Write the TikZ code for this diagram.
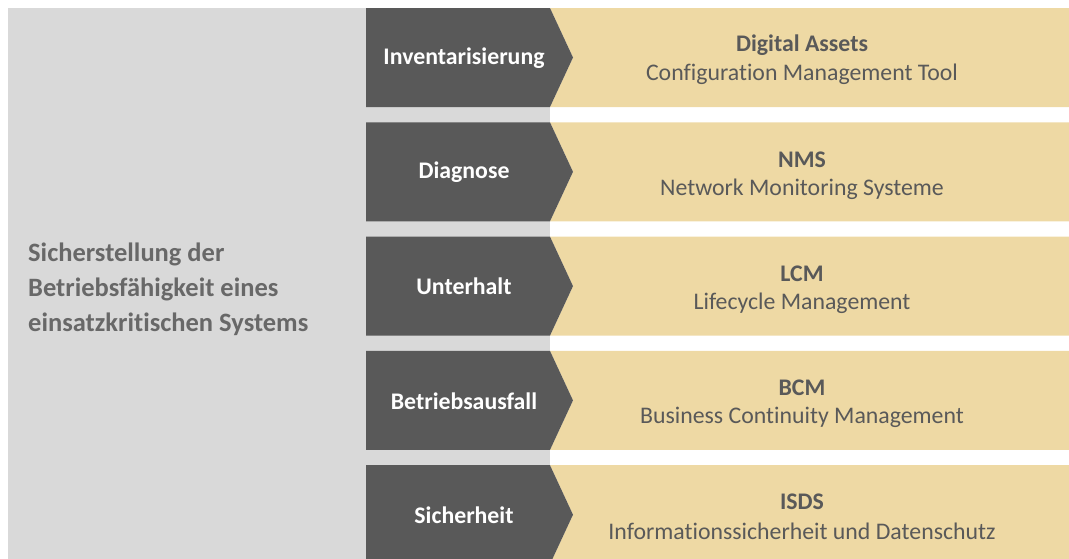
\documentclass[tikz,border=0pt]{standalone}
\usepackage{fontspec}
\setmainfont[Ligatures=NoCommon]{Carlito}
\definecolor{panelgray}{HTML}{D9D9D9}
\definecolor{darkgray}{HTML}{595959}
\definecolor{beige}{HTML}{EED9A4}
\definecolor{leadgray}{HTML}{686868}
\begin{document}
\begin{tikzpicture}[x=1pt,y=-1pt,
  stagetext/.style={font=\bfseries\fontsize{23.8}{28}\selectfont,text=white,anchor=center},
  titletext/.style={font=\bfseries\fontsize{23.8}{28}\selectfont,text=darkgray,anchor=center},
  subtext/.style={font=\fontsize{23.8}{28}\selectfont,text=darkgray,anchor=center},
  leadtext/.style={font=\bfseries\fontsize{26.5}{35}\selectfont,text=leadgray,align=left,anchor=west}]
\useasboundingbox (0,0) rectangle (1069,558);
\clip (0,0) rectangle (1069,558);
% left panel
\fill[panelgray] (8,8) rectangle (550,600);
\node[leadtext,inner sep=0pt] (lead) at (28,289) {Sicherstellung der\\Betriebsfähigkeit eines\\einsatzkritischen Systems};
% rows: chevron stage + description band
\foreach \i/\stage/\title/\sub in {
  0/Inventarisierung/Digital Assets/Configuration Management Tool,
  1/Diagnose/NMS/Network Monitoring Systeme,
  2/Unterhalt/LCM/Lifecycle Management,
  3/Betriebsausfall/BCM/Business Continuity Management,
  4/Sicherheit/ISDS/Informationssicherheit und Datenschutz}{
  \pgfmathsetmacro\t{8+114.3*\i}
  \pgfmathsetmacro\m{\t+49.5}
  \pgfmathsetmacro\b{\t+99}
  \fill[beige] (550,\t) -- (1069,\t) -- (1069,\b) -- (550,\b) -- (573,\m) -- cycle;
  \fill[darkgray] (366,\t) -- (550,\t) -- (573,\m) -- (550,\b) -- (366,\b) -- cycle;
  \node[stagetext] (stage\i) at (464,\m+0.5) {\stage};
  \node[titletext] (title\i) at (802,\m-12.5) {\title};
  \node[subtext] (sub\i) at (802,\m+17) {\sub};
}
\end{tikzpicture}
\end{document}
